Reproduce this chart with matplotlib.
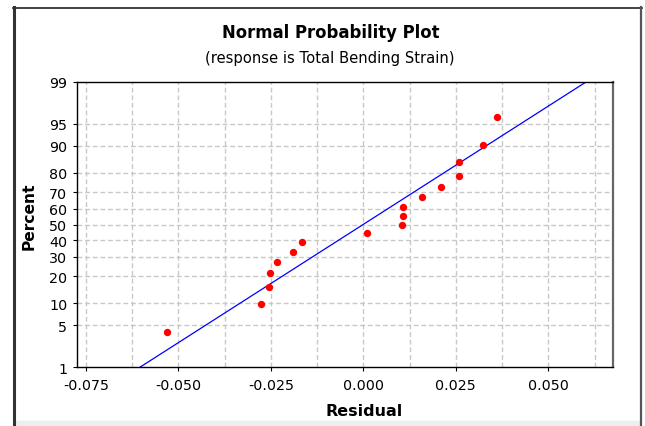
import numpy as np
import matplotlib
matplotlib.use("Agg")
import matplotlib.pyplot as plt
from matplotlib.lines import Line2D
from matplotlib.patches import Rectangle
from statistics import NormalDist

# residuals (sorted) and their plotting positions in percent
residuals = [-0.0532, -0.0278, -0.0254, -0.0252, -0.0234, -0.0190, -0.0166,
             0.0009, 0.0104, 0.0106, 0.0106, 0.0159, 0.0209, 0.0259,
             0.0259, 0.0324, 0.0360]
percents = [4.0, 9.8, 15.5, 21.3, 27.0, 32.8, 38.5, 44.3, 50.0, 55.7,
            61.5, 67.2, 73.0, 78.7, 84.5, 90.2, 96.0]

y_ticks = [1, 5, 10, 20, 30, 40, 50, 60, 70, 80, 90, 95, 99]
x_ticks = [-0.075, -0.050, -0.025, 0.000, 0.025, 0.050]
x_tick_labels = ["-0.075", "-0.050", "-0.025", "0.000", "0.025", "0.050"]
x_grid = [-0.075, -0.0625, -0.05, -0.0375, -0.025, -0.0125, 0.0, 0.0125,
          0.025, 0.0375, 0.05, 0.0625]

title = "Normal Probability Plot"
subtitle = "(response is Total Bending Strain)"

W, H = 645, 427
nd = NormalDist()


def q(p):
    '''percent -> normal quantile'''
    return nd.inv_cdf(p / 100.0)


def fx(x):
    return x / W


def fy(y):
    return 1 - y / H


fig = plt.figure(figsize=(W / 100, H / 100), dpi=100)
ax = fig.add_axes([fx(76.7), fy(368.3), (613.3 - 76.7) / W, (368.3 - 82.7) / H])

# grid
grid_kw = dict(color="#c8c8c8", lw=1.0, ls=(0, (3.5, 2)), zorder=0)
for g in x_grid:
    ax.axvline(g, **grid_kw)
for p in y_ticks[1:-1]:
    ax.axhline(q(p), **grid_kw)

# fitted line from mean and std of residuals
mu = np.mean(residuals)
sd = np.std(residuals, ddof=1)
zz = np.array([q(y_ticks[0]) - 0.5, q(y_ticks[-1]) + 0.5])
ax.plot(mu + sd * zz, zz, color="#0000ff", lw=0.9, zorder=2)

# points
ax.plot(residuals, [q(p) for p in percents], "o", color="#ff0000",
        markersize=5.3, markeredgewidth=0, zorder=3)

ax.set_xlim(-0.07751, 0.06757)
ax.set_ylim(q(y_ticks[0]), q(y_ticks[-1]))
ax.set_xticks(x_ticks)
ax.set_xticklabels(x_tick_labels)
ax.set_yticks([q(p) for p in y_ticks])
ax.set_yticklabels([str(p) for p in y_ticks])
ax.tick_params(axis="x", direction="out", length=2.9, width=0.8,
               labelsize=10.3, pad=4.7)
ax.tick_params(axis="y", direction="out", length=2.9, width=0.8,
               labelsize=10.3, pad=3.9)

for s in ["left", "top", "bottom"]:
    ax.spines[s].set_linewidth(1.0)
    ax.spines[s].set_color("black")
ax.spines["right"].set_linewidth(1.6)
ax.spines["right"].set_color("#666666")

# titles and axis labels
fig.text(fx(331), fy(38.3), title, ha="center", va="baseline",
         fontsize=11.9, fontweight="bold")
fig.text(fx(330), fy(62.7), subtitle, ha="center", va="baseline",
         fontsize=10.6)
fig.text(fx(29.5), fy(216), "Percent", rotation=90, ha="center",
         va="center", fontsize=11.2, fontweight="bold")
fig.text(fx(364), fy(412), "Residual", ha="center", va="center",
         fontsize=11.5, fontweight="bold")

# outer frame of the graph window
fig.add_artist(Rectangle((fx(15), 0), fx(640) - fx(15), fy(422),
                         transform=fig.transFigure, color="#eeeeee",
                         zorder=0))
fig.add_artist(Line2D([fx(14), fx(14)], [fy(8), 0], color="#333333",
                      lw=2.2, transform=fig.transFigure))
fig.add_artist(Line2D([fx(13), fx(642)], [fy(8.5), fy(8.5)],
                      color="#333333", lw=1.3, transform=fig.transFigure))
fig.add_artist(Line2D([fx(641), fx(641)], [fy(8), 0], color="#555555",
                      lw=1.6, transform=fig.transFigure))

fig.savefig("out.png", dpi=100)
